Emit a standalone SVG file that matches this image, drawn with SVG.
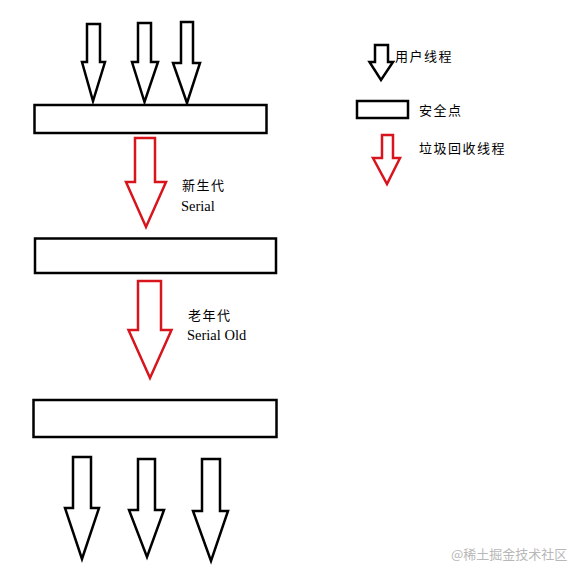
<svg xmlns="http://www.w3.org/2000/svg" width="576" height="578" viewBox="0 0 576 578">
<style>
.ua{fill:#fff;stroke:#000;stroke-width:2.5;stroke-linejoin:miter}
.ga{fill:#fff;stroke:#d8141c;stroke-width:2.5;stroke-linejoin:miter}
.sp{fill:#fff;stroke:#000;stroke-width:2.5}
.t{font-family:"Liberation Serif","Noto Sans CJK SC",serif;font-size:13px;fill:#000;letter-spacing:1.5px}
.e{font-family:"Liberation Serif",serif;font-size:14.5px;fill:#000}
.wm{font-family:"Noto Sans CJK SC",sans-serif;font-size:13px;fill:#b8b8b8}
</style>
<rect width="576" height="578" fill="#fff"/>
<g id="connectors">
<polygon class="ua" points="87,24 100,24 100,62 105,62 93,101 82,62 87,62"/>
<polygon class="ua" points="138,23 151,23 151,62 158,62 144.5,102 132,62 138,62"/>
<polygon class="ua" points="181,22 193,22 193,63 200,63 187,103 173,63 181,63"/>
<polygon class="ga" points="135,138 155,138 155,182 166,182 146,227 126,182 135,182"/>
<polygon class="ga" points="138,281 161,281 161,330 171.5,330 150,378 128.5,330 138,330"/>
<polygon class="ua" points="73,457 91,457 91,508 99,508 82,559 65,508 73,508"/>
<polygon class="ua" points="138,459 155,459 155,510 164,510 147,557 129,510 138,510"/>
<polygon class="ua" points="202,459 220,459 220,511 228,511 211,561 193,511 202,511"/>
</g>
<g id="safepoint1"><rect class="sp" x="34.5" y="105" width="232" height="28"/></g>
<g id="safepoint2"><rect class="sp" x="35" y="238.5" width="241" height="34.5"/></g>
<g id="safepoint3"><rect class="sp" x="33.5" y="400" width="243" height="37"/></g>
<g id="label-young">
<text class="t" x="182" y="190">新生代</text>
<text class="e" x="181" y="211">Serial</text>
</g>
<g id="label-old">
<text class="t" x="188" y="320">老年代</text>
<text class="e" x="187" y="340">Serial Old</text>
</g>
<g id="legend-user">
<polygon class="ua" points="375,45 388,45 388,62 393,62 381,80 369.5,62 375,62"/>
<text class="t" x="395" y="61">用户线程</text>
</g>
<g id="legend-safepoint">
<rect class="sp" x="357" y="101" width="51" height="17"/>
<text class="t" x="419" y="115">安全点</text>
</g>
<g id="legend-gc">
<polygon class="ga" points="382,135 393,135 393,158 400,158 387,184 373,158 382,158"/>
<text class="t" x="419" y="153">垃圾回收线程</text>
</g>
<text class="wm" x="451" y="559">@稀土掘金技术社区</text>
</svg>
